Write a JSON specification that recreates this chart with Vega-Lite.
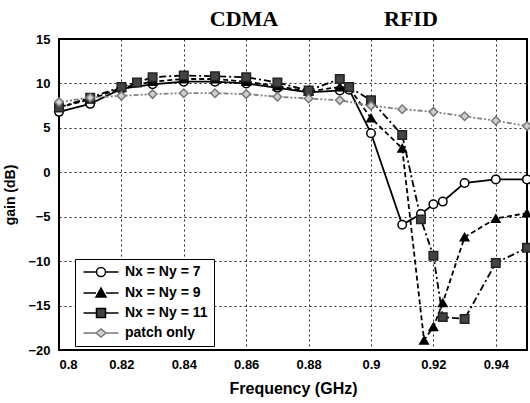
{
  "$schema": "https://vega.github.io/schema/vega-lite/v6.json",
  "autosize": {"type": "none"},
  "padding": {"left": 59, "top": 39, "right": 3, "bottom": 53},
  "width": 468,
  "height": 311,
  "background": "white",
  "config": {
    "view": {"stroke": "black", "strokeWidth": 2},
    "axis": {
      "labelFont": "Liberation Sans", "labelFontWeight": "bold", "labelFontSize": 13, "labelColor": "black",
      "titleFont": "Liberation Sans", "titleFontWeight": "bold", "titleColor": "black",
      "grid": true, "gridColor": "black", "gridDash": [2, 3], "gridWidth": 1, "gridOpacity": 0.85,
      "ticks": false, "domain": false
    }
  },
  "datasets": {
    "curves": [
      {"series": "Nx = Ny = 7", "f": 0.80, "gain": 6.8},
      {"series": "Nx = Ny = 7", "f": 0.81, "gain": 7.7},
      {"series": "Nx = Ny = 7", "f": 0.82, "gain": 9.4},
      {"series": "Nx = Ny = 7", "f": 0.83, "gain": 9.9},
      {"series": "Nx = Ny = 7", "f": 0.84, "gain": 10.2},
      {"series": "Nx = Ny = 7", "f": 0.85, "gain": 10.2},
      {"series": "Nx = Ny = 7", "f": 0.86, "gain": 10.0},
      {"series": "Nx = Ny = 7", "f": 0.87, "gain": 9.5},
      {"series": "Nx = Ny = 7", "f": 0.88, "gain": 9.0},
      {"series": "Nx = Ny = 7", "f": 0.89, "gain": 9.2},
      {"series": "Nx = Ny = 7", "f": 0.893, "gain": 9.3},
      {"series": "Nx = Ny = 7", "f": 0.90, "gain": 4.4},
      {"series": "Nx = Ny = 7", "f": 0.91, "gain": -5.9},
      {"series": "Nx = Ny = 7", "f": 0.916, "gain": -4.7},
      {"series": "Nx = Ny = 7", "f": 0.92, "gain": -3.6},
      {"series": "Nx = Ny = 7", "f": 0.923, "gain": -3.3},
      {"series": "Nx = Ny = 7", "f": 0.93, "gain": -1.2},
      {"series": "Nx = Ny = 7", "f": 0.94, "gain": -0.8},
      {"series": "Nx = Ny = 7", "f": 0.95, "gain": -0.8},

      {"series": "Nx = Ny = 9", "f": 0.80, "gain": 7.3},
      {"series": "Nx = Ny = 9", "f": 0.81, "gain": 8.2},
      {"series": "Nx = Ny = 9", "f": 0.82, "gain": 9.5},
      {"series": "Nx = Ny = 9", "f": 0.83, "gain": 10.2},
      {"series": "Nx = Ny = 9", "f": 0.84, "gain": 10.5},
      {"series": "Nx = Ny = 9", "f": 0.85, "gain": 10.5},
      {"series": "Nx = Ny = 9", "f": 0.86, "gain": 10.2},
      {"series": "Nx = Ny = 9", "f": 0.87, "gain": 9.7},
      {"series": "Nx = Ny = 9", "f": 0.88, "gain": 9.1},
      {"series": "Nx = Ny = 9", "f": 0.89, "gain": 9.6},
      {"series": "Nx = Ny = 9", "f": 0.893, "gain": 9.5},
      {"series": "Nx = Ny = 9", "f": 0.90, "gain": 6.1},
      {"series": "Nx = Ny = 9", "f": 0.91, "gain": 2.7},
      {"series": "Nx = Ny = 9", "f": 0.917, "gain": -18.9},
      {"series": "Nx = Ny = 9", "f": 0.92, "gain": -17.4},
      {"series": "Nx = Ny = 9", "f": 0.923, "gain": -14.7},
      {"series": "Nx = Ny = 9", "f": 0.93, "gain": -7.3},
      {"series": "Nx = Ny = 9", "f": 0.94, "gain": -5.2},
      {"series": "Nx = Ny = 9", "f": 0.95, "gain": -4.6},

      {"series": "Nx = Ny = 11", "f": 0.80, "gain": 7.3},
      {"series": "Nx = Ny = 11", "f": 0.81, "gain": 8.4},
      {"series": "Nx = Ny = 11", "f": 0.82, "gain": 9.6},
      {"series": "Nx = Ny = 11", "f": 0.825, "gain": 10.1},
      {"series": "Nx = Ny = 11", "f": 0.83, "gain": 10.7},
      {"series": "Nx = Ny = 11", "f": 0.84, "gain": 10.9},
      {"series": "Nx = Ny = 11", "f": 0.85, "gain": 10.8},
      {"series": "Nx = Ny = 11", "f": 0.86, "gain": 10.7},
      {"series": "Nx = Ny = 11", "f": 0.87, "gain": 10.1},
      {"series": "Nx = Ny = 11", "f": 0.88, "gain": 9.2},
      {"series": "Nx = Ny = 11", "f": 0.89, "gain": 10.5},
      {"series": "Nx = Ny = 11", "f": 0.893, "gain": 9.6},
      {"series": "Nx = Ny = 11", "f": 0.90, "gain": 8.1},
      {"series": "Nx = Ny = 11", "f": 0.91, "gain": 4.2},
      {"series": "Nx = Ny = 11", "f": 0.916, "gain": -5.3},
      {"series": "Nx = Ny = 11", "f": 0.92, "gain": -9.4},
      {"series": "Nx = Ny = 11", "f": 0.923, "gain": -16.3},
      {"series": "Nx = Ny = 11", "f": 0.93, "gain": -16.5},
      {"series": "Nx = Ny = 11", "f": 0.94, "gain": -10.2},
      {"series": "Nx = Ny = 11", "f": 0.95, "gain": -8.5},

      {"series": "patch only", "f": 0.80, "gain": 7.9},
      {"series": "patch only", "f": 0.81, "gain": 8.4},
      {"series": "patch only", "f": 0.82, "gain": 8.6},
      {"series": "patch only", "f": 0.83, "gain": 8.8},
      {"series": "patch only", "f": 0.84, "gain": 8.9},
      {"series": "patch only", "f": 0.85, "gain": 8.9},
      {"series": "patch only", "f": 0.86, "gain": 8.8},
      {"series": "patch only", "f": 0.87, "gain": 8.5},
      {"series": "patch only", "f": 0.88, "gain": 8.3},
      {"series": "patch only", "f": 0.89, "gain": 8.1},
      {"series": "patch only", "f": 0.90, "gain": 7.5},
      {"series": "patch only", "f": 0.91, "gain": 7.1},
      {"series": "patch only", "f": 0.92, "gain": 6.8},
      {"series": "patch only", "f": 0.93, "gain": 6.3},
      {"series": "patch only", "f": 0.94, "gain": 5.8},
      {"series": "patch only", "f": 0.95, "gain": 5.2}
    ],
    "bands": [
      {"label": "CDMA", "f": 0.8593, "gain": 16.5},
      {"label": "RFID", "f": 0.9128, "gain": 16.5}
    ]
  },
  "layer": [
    {
      "data": {"name": "curves"},
      "mark": {"type": "line", "strokeWidth": 1.8},
      "encoding": {
        "x": {"field": "f", "type": "quantitative",
              "scale": {"domain": [0.8, 0.95], "nice": false, "zero": false},
              "axis": {"values": [0.8, 0.82, 0.84, 0.86, 0.88, 0.9, 0.92, 0.94], "format": ".2~f",
                       "title": "Frequency (GHz)", "titleFontSize": 16, "labelPadding": 8, "titlePadding": 9}},
        "y": {"field": "gain", "type": "quantitative",
              "scale": {"domain": [-20, 15], "nice": false, "zero": false},
              "axis": {"values": [-20, -15, -10, -5, 0, 5, 10, 15], "title": "gain (dB)",
                       "titleFontSize": 14, "labelPadding": 9, "titlePadding": 10}},
        "detail": {"field": "series"},
        "stroke": {"condition": {"test": "datum.series === 'patch only'", "value": "#808080"}, "value": "black"},
        "strokeDash": {"condition": [
            {"test": "datum.series === 'Nx = Ny = 7'", "value": [1, 0]},
            {"test": "datum.series === 'Nx = Ny = 9'", "value": [5, 3]},
            {"test": "datum.series === 'Nx = Ny = 11'", "value": [7, 3, 2, 3]}
          ], "value": [5, 2, 2, 2, 2, 2]}
      }
    },
    {
      "data": {"name": "curves"},
      "mark": {"type": "point", "filled": true, "strokeWidth": 1.5, "opacity": 1, "size": 72},
      "encoding": {
        "x": {"field": "f", "type": "quantitative"},
        "y": {"field": "gain", "type": "quantitative"},
        "shape": {"condition": [
            {"test": "datum.series === 'Nx = Ny = 7'", "value": "circle"},
            {"test": "datum.series === 'Nx = Ny = 9'", "value": "triangle-up"},
            {"test": "datum.series === 'Nx = Ny = 11'", "value": "square"}
          ], "value": "diamond"},
        "fill": {"condition": [
            {"test": "datum.series === 'Nx = Ny = 7'", "value": "white"},
            {"test": "datum.series === 'Nx = Ny = 9'", "value": "black"},
            {"test": "datum.series === 'Nx = Ny = 11'", "value": "#444"}
          ], "value": "#cfcfcf"},
        "stroke": {"condition": [
            {"test": "datum.series === 'Nx = Ny = 11'", "value": "#222"},
            {"test": "datum.series === 'patch only'", "value": "#777"}
          ], "value": "black"}
      }
    },
    {
      "data": {"name": "curves"},
      "transform": [{"filter": "false"}],
      "mark": {"type": "point", "filled": true, "opacity": 1, "size": 100, "strokeWidth": 1.8,
               "fill": {"expr": "datum.value === 'Nx = Ny = 7' ? 'white' : datum.value === 'Nx = Ny = 9' ? 'black' : datum.value === 'Nx = Ny = 11' ? '#444' : '#cfcfcf'"},
               "stroke": {"expr": "datum.value === 'patch only' ? '#777' : 'black'"},
               "strokeDash": {"expr": "datum.value === 'Nx = Ny = 7' ? [1,0] : datum.value === 'Nx = Ny = 9' ? [4,3] : datum.value === 'Nx = Ny = 11' ? [6,3,2,3] : [4,2,2,2]"}},
      "encoding": {
        "x": {"field": "f", "type": "quantitative"},
        "y": {"field": "gain", "type": "quantitative"},
        "shape": {"field": "series", "type": "nominal",
                  "scale": {"domain": ["Nx = Ny = 7", "Nx = Ny = 9", "Nx = Ny = 11", "patch only"],
                            "range": [
                              "M-3.5,0L-0.9,0M0.9,0L3.5,0M-0.9,0A0.9,0.9,0,1,1,0.9,0A0.9,0.9,0,1,1,-0.9,0Z",
                              "M-3.5,0L-1,0M1,0L3.5,0M-1,0.8L0,-1L1,0.8Z",
                              "M-3.5,0L-0.9,0M0.9,0L3.5,0M-0.9,-0.9L0.9,-0.9L0.9,0.9L-0.9,0.9Z",
                              "M-3.5,0L-1,0M1,0L3.5,0M-1,0L0,-0.8L1,0L0,0.8Z"]},
                  "legend": {
                    "title": null, "orient": "none", "legendX": 16, "legendY": 220,
                    "strokeColor": "black", "fillColor": "white",
                    "padding": 6, "rowPadding": 5, "labelOffset": 17, "symbolOffset": 13, "symbolSize": 100,
                    "labelFont": "Liberation Sans", "labelFontWeight": "bold", "labelFontSize": 14, "labelColor": "black",
                    "encode": {"legend": {"strokeWidth": {"value": 1.5}}}
                  }}
      }
    },
    {
      "data": {"name": "bands"},
      "mark": {"type": "text", "font": "Liberation Serif", "fontWeight": "bold", "fontSize": 22,
               "align": "center", "baseline": "alphabetic", "color": "black"},
      "encoding": {
        "x": {"field": "f", "type": "quantitative"},
        "y": {"field": "gain", "type": "quantitative"},
        "text": {"field": "label"}
      }
    }
  ]
}
